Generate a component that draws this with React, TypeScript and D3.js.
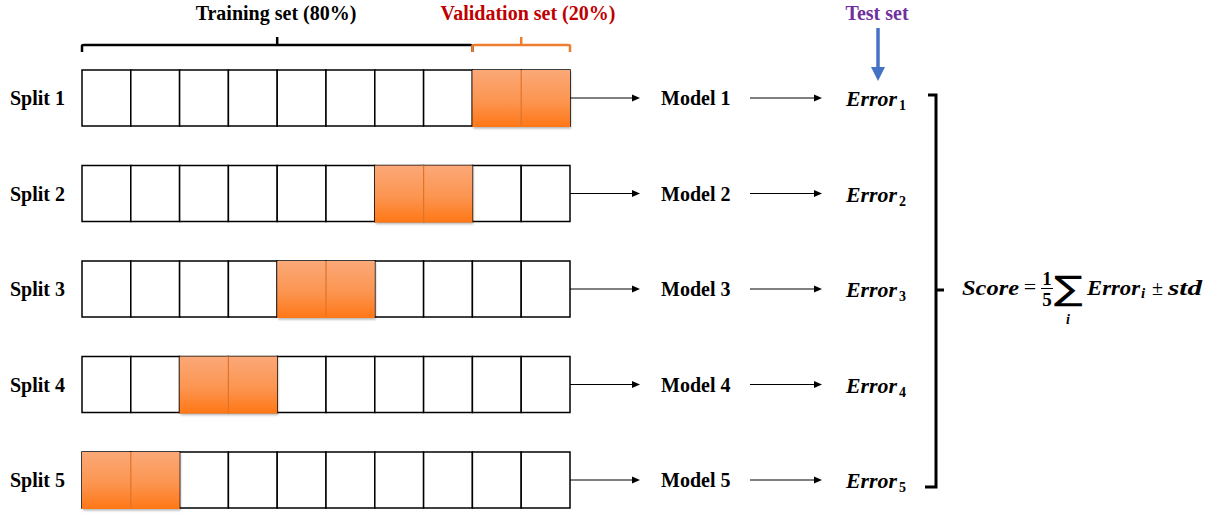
import React from "react";
import * as d3 from "d3";

const splitLabels = ["Split 1", "Split 2", "Split 3", "Split 4", "Split 5"];
const modelLabels = ["Model 1", "Model 2", "Model 3", "Model 4", "Model 5"];
const errorSubscripts = ["1", "2", "3", "4", "5"];
const validationStart = [8, 6, 4, 2, 0];
const foldCount = 10;
const validationWidth = 2;
const trainingLabel = "Training set (80%)";
const validationLabel = "Validation set (20%)";
const testLabel = "Test set";

const W = 1222;
const H = 513;

export default function App() {
  const x = d3.scaleLinear().domain([0, foldCount]).range([82, 570]);
  const y = d3.scalePoint<string>().domain(splitLabels).range([98, 480]);
  const boxH = 56;
  const serif = "'Liberation Serif', 'Times New Roman', serif";
  const folds = d3.range(foldCount);

  const arrow = (x1: number, x2: number, yy: number, key: string) => (
    <g key={key}>
      <line x1={x1} x2={x2 - 6} y1={yy} y2={yy} stroke="#000" strokeWidth={1} />
      <path d={`M${x2},${yy} L${x2 - 8},${yy - 3.5} L${x2 - 8},${yy + 3.5} Z`} fill="#000" />
    </g>
  );

  const brace = (x0: number, x1: number, yy: number, color: string) => {
    const mid = (x0 + x1) / 2;
    const p = d3.path();
    p.moveTo(x0, yy + 7);
    p.lineTo(x0, yy + 1);
    p.quadraticCurveTo(x0, yy, x0 + 2, yy);
    p.lineTo(x1 - 2, yy);
    p.quadraticCurveTo(x1, yy, x1, yy + 1);
    p.lineTo(x1, yy + 7);
    p.moveTo(mid, yy);
    p.lineTo(mid, yy - 8);
    return <path d={p.toString()} fill="none" stroke={color} strokeWidth={2.5} />;
  };

  const bx = 936;
  const bTop = 95;
  const bBot = 487;
  const bMid = 290;
  const fb = 295; // formula baseline

  return (
    <svg width={W} height={H} style={{ position: "absolute", left: 0, top: 0, background: "#fff" }}>
      <defs>
        <linearGradient id="orangeGrad" x1="0" y1="0" x2="0" y2="1">
          <stop offset="0%" stopColor="#FBA878" />
          <stop offset="55%" stopColor="#FC9550" />
          <stop offset="100%" stopColor="#FF7716" />
        </linearGradient>
        <filter id="shadow" x="-10%" y="-10%" width="130%" height="130%">
          <feDropShadow dx="1" dy="1.5" stdDeviation="1" floodColor="#000" floodOpacity="0.3" />
        </filter>
      </defs>

      {/* top labels */}
      <text x={276} y={20} textAnchor="middle" fontFamily={serif} fontWeight="bold" fontSize={20} fill="#000">
        {trainingLabel}
      </text>
      <text x={528} y={20} textAnchor="middle" fontFamily={serif} fontWeight="bold" fontSize={20} fill="#C00000">
        {validationLabel}
      </text>
      <text x={877} y={20} textAnchor="middle" fontFamily={serif} fontWeight="bold" fontSize={20} fill="#7030A0">
        {testLabel}
      </text>
      {brace(x(0), x(8), 45, "#000")}
      {brace(x(8), x(10), 45, "#ED7D31")}

      {/* blue test arrow */}
      <line x1={878} x2={878} y1={28} y2={68} stroke="#4472C4" strokeWidth={3.5} />
      <path d="M878,81 L871,67 L885,67 Z" fill="#4472C4" />

      {splitLabels.map((s, i) => {
        const cy = y(s)!;
        const top = cy - boxH / 2;
        const vs = validationStart[i];
        return (
          <g key={s}>
            <text x={10} y={cy + 7} fontFamily={serif} fontWeight="bold" fontSize={20} fill="#000">
              {s}
            </text>
            {folds.map((f) => (
              <rect
                key={f}
                x={x(f)}
                y={top}
                width={x(f + 1) - x(f)}
                height={boxH}
                fill="#fff"
                stroke="#000"
                strokeWidth={1.5}
              />
            ))}
            <g filter="url(#shadow)">
              <rect
                x={x(vs)}
                y={top}
                width={x(vs + validationWidth) - x(vs)}
                height={boxH + 1}
                fill="url(#orangeGrad)"
              />
            </g>
            {d3.range(1, validationWidth).map((k) => (
              <line
                key={k}
                x1={x(vs + k)}
                x2={x(vs + k)}
                y1={top}
                y2={top + boxH}
                stroke="#E0732A"
                strokeWidth={1.2}
              />
            ))}
            {arrow(x(foldCount), 640, cy, "a1")}
            <text x={661} y={cy + 7} fontFamily={serif} fontWeight="bold" fontSize={20} fill="#000">
              {modelLabels[i]}
            </text>
            {arrow(750, 822, cy, "a2")}
            <text
              x={846}
              y={cy + 8}
              fontFamily={serif}
              fontStyle="italic"
              fontWeight="bold"
              fontSize={21}
              textLength={51}
              lengthAdjust="spacingAndGlyphs"
              fill="#000"
            >
              Error
            </text>
            <text x={899} y={cy + 12} fontFamily={serif} fontWeight="bold" fontSize={14} fill="#000">
              {errorSubscripts[i]}
            </text>
          </g>
        );
      })}

      {/* right bracket */}
      <path
        d={`M${bx - 8},${bTop} L${bx},${bTop} L${bx},${bBot} L${bx - 11},${bBot} M${bx},${bMid} L${bx + 8},${bMid}`}
        fill="none"
        stroke="#000"
        strokeWidth={3}
      />

      {/* score formula */}
      <g fontFamily={serif} fontWeight="bold" fill="#000">
        <text x={962} y={fb} fontStyle="italic" fontSize={22} textLength={57} lengthAdjust="spacingAndGlyphs">
          Score
        </text>
        <text x={1030} y={fb - 1} fontSize={22} fontWeight="normal" textAnchor="middle">=</text>
        <text x={1047} y={285} fontSize={19} textAnchor="middle">1</text>
        <line x1={1041} x2={1053} y1={288.5} y2={288.5} stroke="#000" strokeWidth={1} />
        <text x={1047} y={306} fontSize={19} textAnchor="middle">5</text>
        <text
          x={1054}
          y={300}
          fontFamily="'DejaVu Sans', sans-serif"
          fontSize={34}
          fontWeight="normal"
          textLength={29}
          lengthAdjust="spacingAndGlyphs"
        >
          ∑
        </text>
        <text x={1068} y={324} fontStyle="italic" fontSize={14} textAnchor="middle">i</text>
        <text x={1087} y={fb} fontStyle="italic" fontSize={21} textLength={53} lengthAdjust="spacingAndGlyphs">
          Error
        </text>
        <text x={1141} y={fb + 3} fontStyle="italic" fontSize={15}>i</text>
        <text x={1157.5} y={fb} fontSize={20} fontWeight="normal" textAnchor="middle">±</text>
        <text x={1168} y={fb} fontStyle="italic" fontSize={21} textLength={34} lengthAdjust="spacingAndGlyphs">
          std
        </text>
      </g>
    </svg>
  );
}
